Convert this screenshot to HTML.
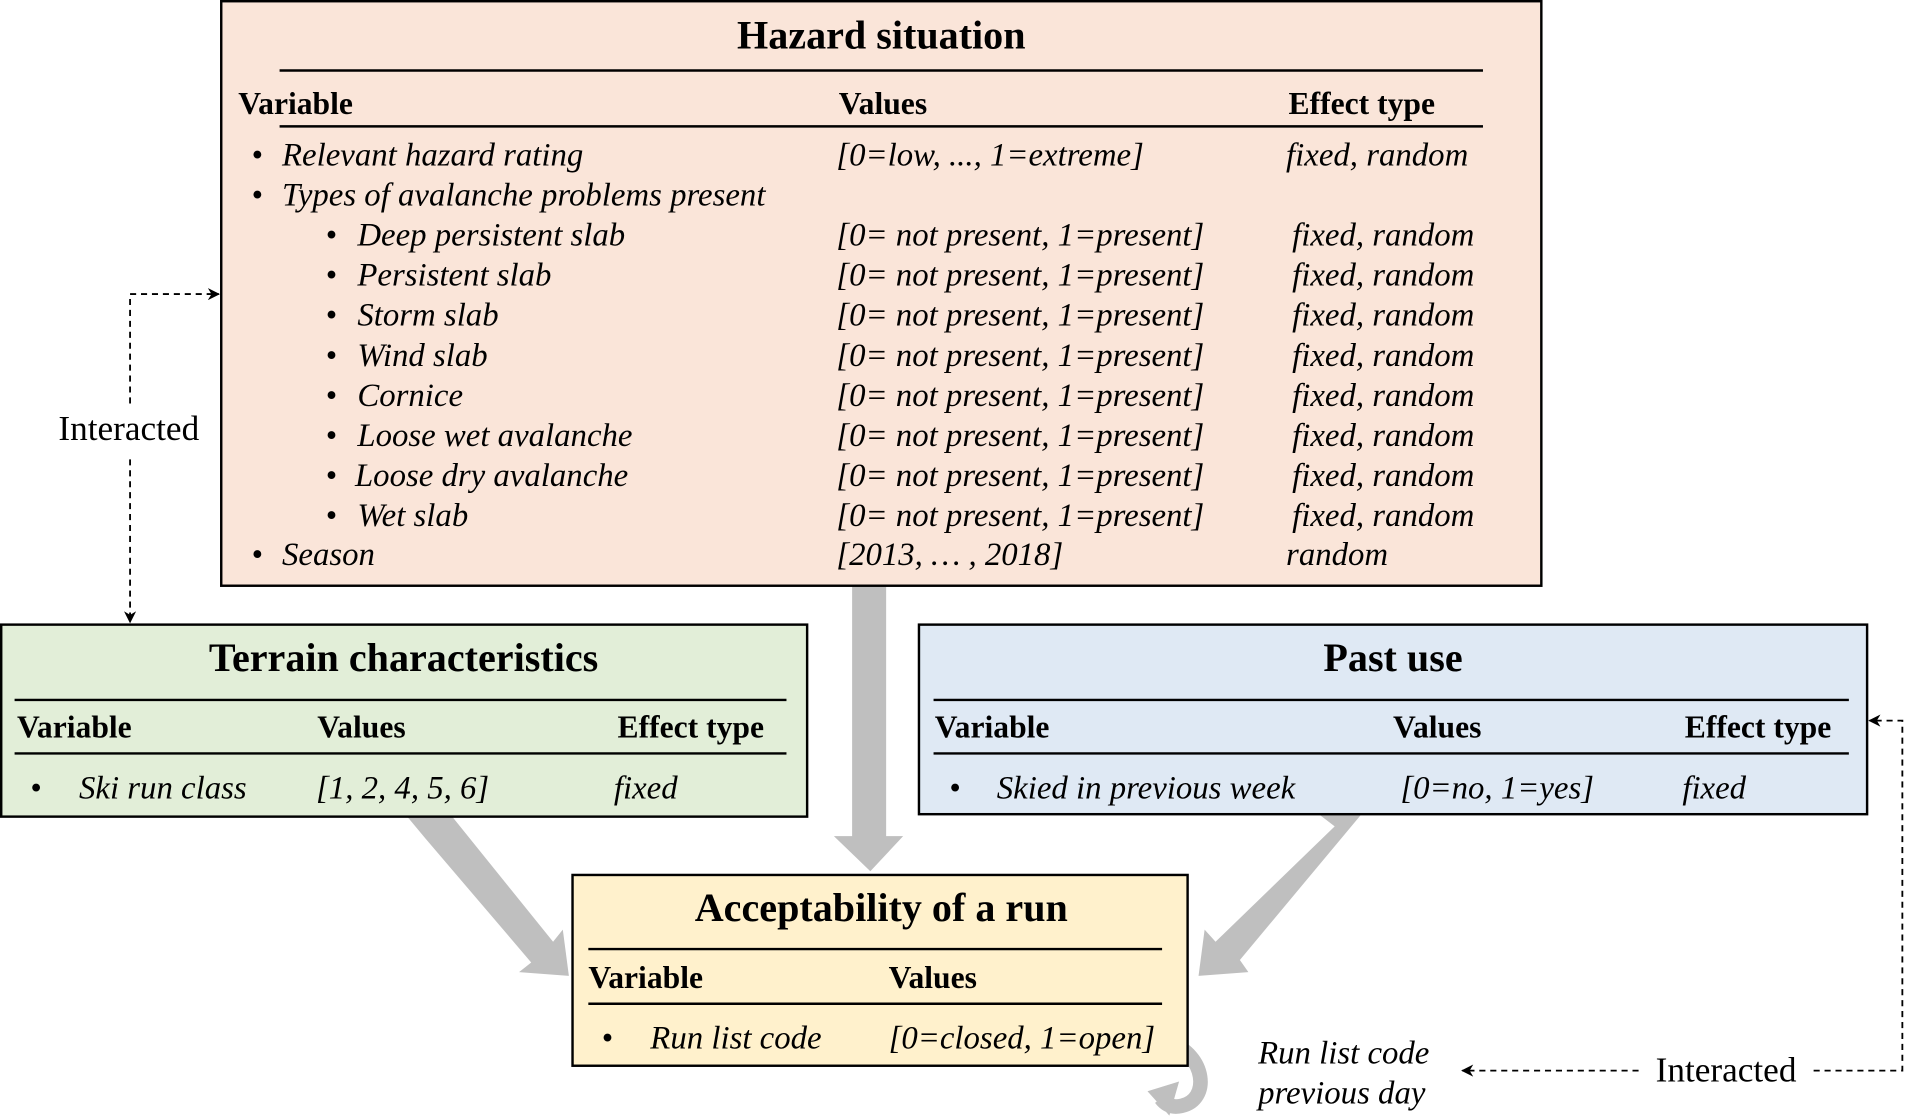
<!DOCTYPE html>
<html><head><meta charset="utf-8"><style>html,body{margin:0;padding:0;background:#fff}svg{display:block}text{font-family:"Liberation Serif","Times New Roman",serif}</style></head>
<body>
<svg width="1906" height="1118" viewBox="0 0 1568 920" preserveAspectRatio="none" xmlns="http://www.w3.org/2000/svg">
<defs>
<marker id="ah" markerWidth="10" markerHeight="10" refX="9" refY="5" orient="auto" markerUnits="userSpaceOnUse"><path d="M0,0 L10,5 L0,10 L3,5 Z" fill="#000"/></marker>
</defs>
<g fill="#bfbfbf">
<polygon points="701,482 729,482 729,688 743,688 716,717 686,688 701,688"/>
<polygon points="335,672 372,672 455,775 463,765 468,803 427,800 437,792 350,690"/>
<polygon points="1085,670 1120,670 1020,790 1027,800 986,803 991,765 1000,775 1098,680"/>
<path d="M962,858 C992,868 996,905 972,910 C963,912 958,908 955,904" fill="none" stroke="#bfbfbf" stroke-width="12"/>
<polygon points="944,898 970,890 962,918"/>
</g>
<rect x="182" y="1" width="1086" height="481" fill="#fae5d9" stroke="#000" stroke-width="2"/>
<text x="725" y="40" font-size="33" font-weight="bold" text-anchor="middle">Hazard situation</text>
<line x1="230" y1="58" x2="1220" y2="58" stroke="#000" stroke-width="2"/>
<g font-size="26" font-weight="bold"><text x="196" y="94">Variable</text><text x="690" y="94">Values</text><text x="1060" y="94">Effect type</text></g>
<line x1="230" y1="104" x2="1220" y2="104" stroke="#000" stroke-width="2"/>
<g font-size="27" font-style="italic">
<text x="207" y="136" font-style="normal">•</text><text x="232" y="136">Relevant hazard rating</text><text x="688" y="136">[0=low, ..., 1=extreme]</text><text x="1058" y="136">fixed, random</text>
<text x="207" y="169" font-style="normal">•</text><text x="232" y="169">Types of avalanche problems present</text>
<text x="268" y="202" font-style="normal">•</text><text x="294" y="202">Deep persistent slab</text><text x="688" y="202">[0= not present, 1=present]</text><text x="1063" y="202">fixed, random</text>
<text x="268" y="235" font-style="normal">•</text><text x="294" y="235">Persistent slab</text><text x="688" y="235">[0= not present, 1=present]</text><text x="1063" y="235">fixed, random</text>
<text x="268" y="268" font-style="normal">•</text><text x="294" y="268">Storm slab</text><text x="688" y="268">[0= not present, 1=present]</text><text x="1063" y="268">fixed, random</text>
<text x="268" y="301" font-style="normal">•</text><text x="294" y="301">Wind slab</text><text x="688" y="301">[0= not present, 1=present]</text><text x="1063" y="301">fixed, random</text>
<text x="268" y="334" font-style="normal">•</text><text x="294" y="334">Cornice</text><text x="688" y="334">[0= not present, 1=present]</text><text x="1063" y="334">fixed, random</text>
<text x="268" y="367" font-style="normal">•</text><text x="294" y="367">Loose wet avalanche</text><text x="688" y="367">[0= not present, 1=present]</text><text x="1063" y="367">fixed, random</text>
<text x="268" y="400" font-style="normal">•</text><text x="292" y="400">Loose dry  avalanche</text><text x="688" y="400">[0= not present, 1=present]</text><text x="1063" y="400">fixed, random</text>
<text x="268" y="433" font-style="normal">•</text><text x="294" y="433">Wet slab</text><text x="688" y="433">[0= not present, 1=present]</text><text x="1063" y="433">fixed, random</text>
<text x="207" y="465" font-style="normal">•</text><text x="232" y="465">Season</text><text x="688" y="465">[2013, … , 2018]</text><text x="1058" y="465">random</text>
</g>
<rect x="1" y="514" width="663" height="158" fill="#e2eed8" stroke="#000" stroke-width="2"/>
<text x="332" y="552" font-size="33" font-weight="bold" text-anchor="middle">Terrain characteristics</text>
<line x1="12" y1="576" x2="647" y2="576" stroke="#000" stroke-width="2"/>
<g font-size="26" font-weight="bold"><text x="14" y="607">Variable</text><text x="261" y="607">Values</text><text x="508" y="607">Effect type</text></g>
<line x1="12" y1="620" x2="647" y2="620" stroke="#000" stroke-width="2"/>
<g font-size="27" font-style="italic"><text x="25" y="657" font-style="normal">•</text><text x="65" y="657">Ski run class</text><text x="260" y="657">[1, 2, 4, 5, 6]</text><text x="505" y="657">fixed</text></g>
<rect x="756" y="514" width="780" height="156" fill="#dfe9f4" stroke="#000" stroke-width="2"/>
<text x="1146" y="552" font-size="33" font-weight="bold" text-anchor="middle">Past use</text>
<line x1="768" y1="576" x2="1521" y2="576" stroke="#000" stroke-width="2"/>
<g font-size="26" font-weight="bold"><text x="769" y="607">Variable</text><text x="1146" y="607">Values</text><text x="1386" y="607">Effect type</text></g>
<line x1="768" y1="620" x2="1521" y2="620" stroke="#000" stroke-width="2"/>
<g font-size="27" font-style="italic"><text x="781" y="657" font-style="normal">•</text><text x="820" y="657">Skied in previous week</text><text x="1152" y="657">[0=no, 1=yes]</text><text x="1384" y="657">fixed</text></g>
<rect x="471" y="720" width="506" height="157" fill="#fff1cc" stroke="#000" stroke-width="2"/>
<text x="725" y="758" font-size="33" font-weight="bold" text-anchor="middle">Acceptability of a run</text>
<line x1="484" y1="781" x2="956" y2="781" stroke="#000" stroke-width="2"/>
<g font-size="26" font-weight="bold"><text x="484" y="813">Variable</text><text x="731" y="813">Values</text></g>
<line x1="484" y1="826" x2="956" y2="826" stroke="#000" stroke-width="2"/>
<g font-size="27" font-style="italic"><text x="495" y="863" font-style="normal">•</text><text x="535" y="863">Run list code</text><text x="731" y="863">[0=closed, 1=open]</text></g>
<g font-size="27" font-style="italic"><text x="1035" y="875">Run list code</text><text x="1035" y="908">previous day</text></g>
<text x="1362" y="890" font-size="29">Interacted</text>
<text x="48" y="362" font-size="29">Interacted</text>
<g fill="none" stroke="#000" stroke-width="1.5" stroke-dasharray="5,4">
<path d="M107,332 L107,242 L180,242" marker-end="url(#ah)"/>
<path d="M107,378 L107,512" marker-end="url(#ah)"/>
<path d="M1348,881 L1203,881" marker-end="url(#ah)"/>
<path d="M1492,881 L1565,881 L1565,593 L1538,593" marker-end="url(#ah)"/>
</g>
</svg>
</body></html>
